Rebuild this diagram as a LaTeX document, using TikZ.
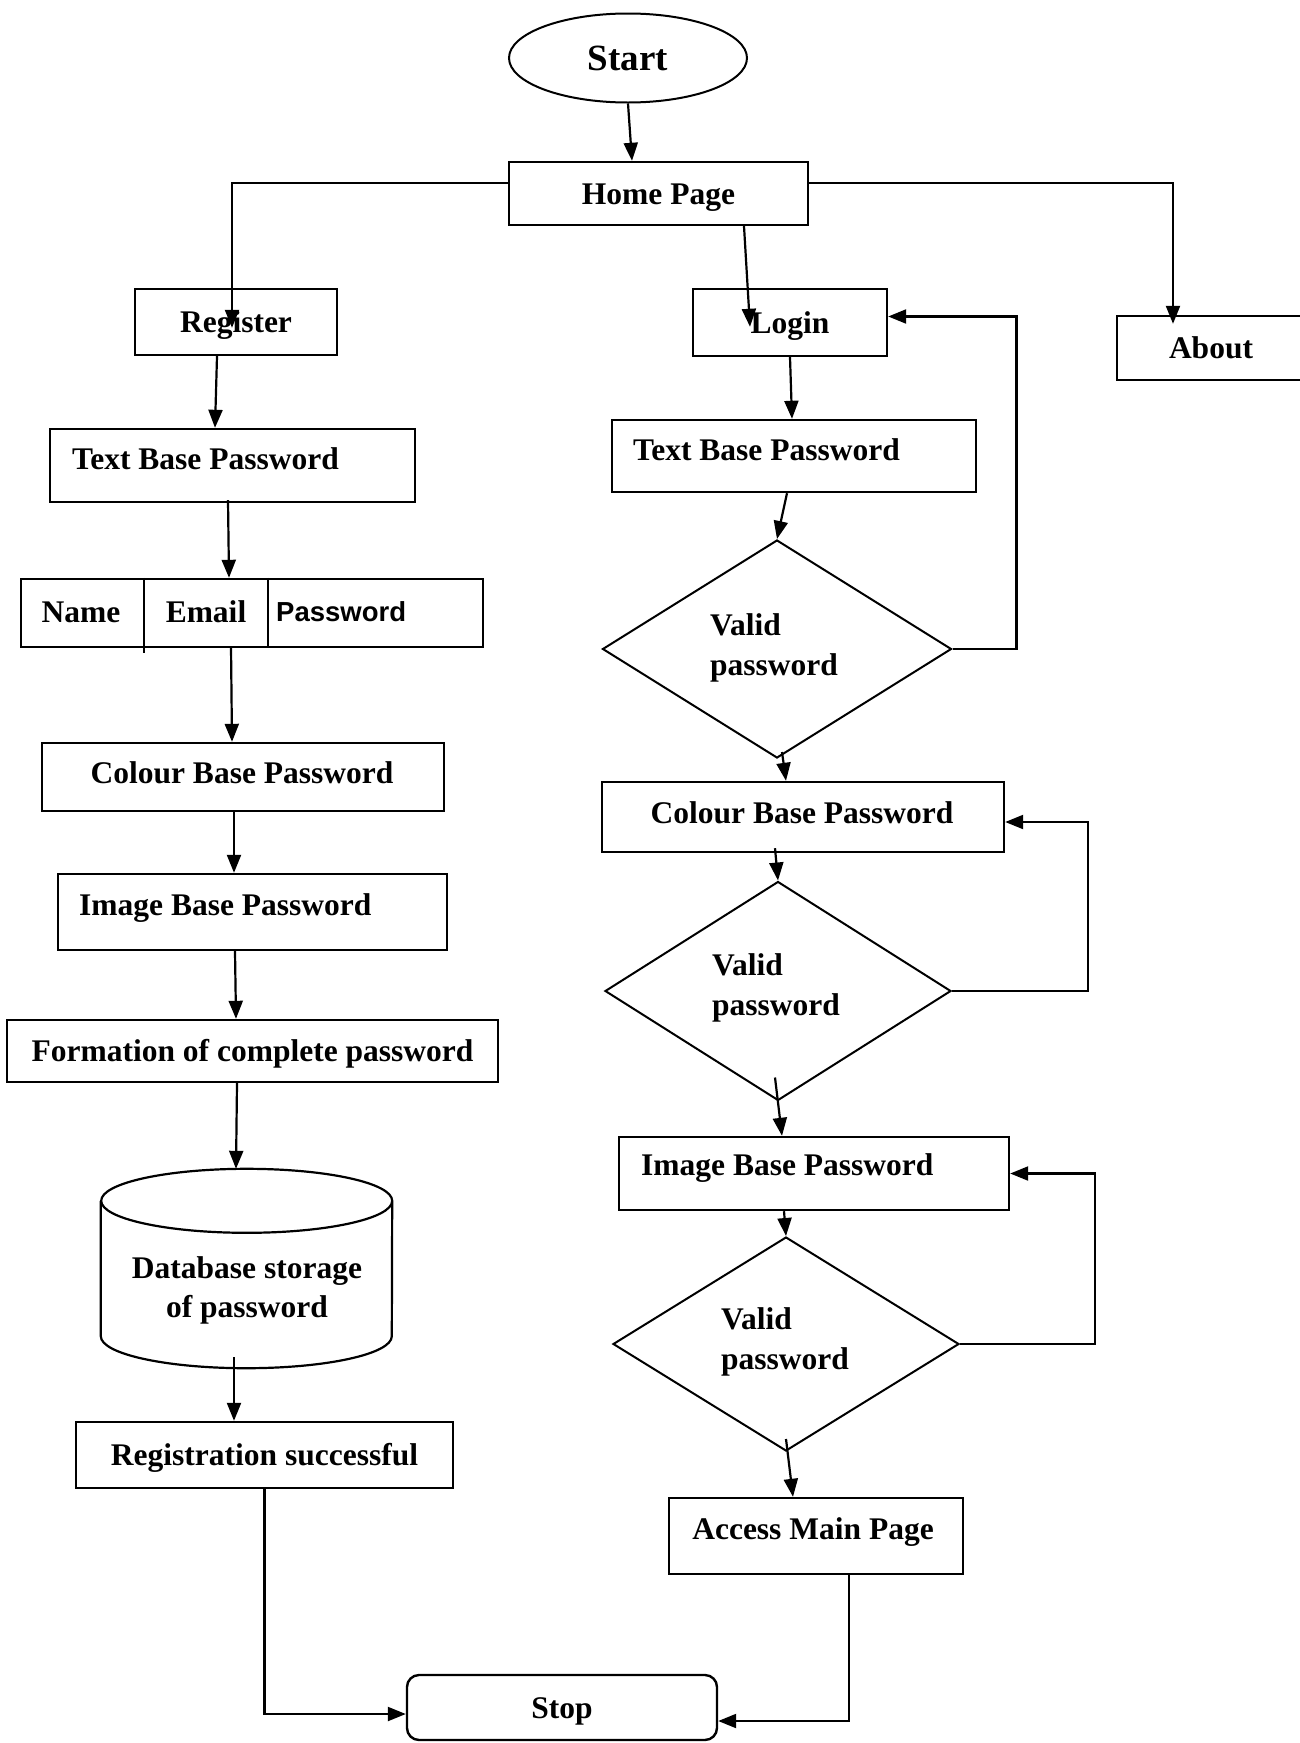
\documentclass[tikz,border=0pt]{standalone}
\usepackage{fontspec}
\setmainfont{Liberation Serif}
\newfontfamily\sansbf{Liberation Sans}
\usetikzlibrary{arrows.meta,shapes.geometric}
\begin{document}
\begin{tikzpicture}[x=1pt,y=-1pt,
  bx/.style={draw, line width=2.4pt, rectangle, inner sep=0pt,
    font=\fontsize{31.5}{40}\selectfont\bfseries, text height=21pt, text depth=0pt},
  txt/.style={inner sep=0pt, font=\fontsize{31.5}{40}\selectfont\bfseries, text height=21pt, text depth=0pt},
  mtxt/.style={inner sep=0pt, font=\fontsize{31.5}{40}\selectfont\bfseries, align=left},
  dia/.style={draw, diamond, line width=2pt, inner sep=0pt},
  arr/.style={line width=2.2pt, -{Triangle[length=18pt,width=14pt]}},
  divline/.style={line width=1.6pt}]
\fill[white] (0,0) rectangle (1300,1743);
\useasboundingbox (0,0) rectangle (1300,1743);

% top
\node[draw, ellipse, line width=2pt, minimum width=238pt, minimum height=89pt, inner sep=0pt,
  font=\fontsize{37}{44}\selectfont\bfseries] (start) at (628,58) {Start};
\node[bx, minimum width=299pt, minimum height=63pt] (home) at (658.5,193.5) {Home Page};
\node[bx, minimum width=202pt, minimum height=66pt] (register) at (236,322) {Register};
\node[bx, minimum width=194pt, minimum height=67pt] (login) at (790,322.5) {Login};
\node[bx, minimum width=188pt, minimum height=64pt] (about) at (1211,348) {About};

% left column
\node[bx, minimum width=365pt, minimum height=73pt] (ltext) at (232.5,465.5) {};
\node[txt, anchor=west] (ltextlbl) at (72,459) {Text Base Password};

\node[bx, minimum width=462pt, minimum height=68pt] (names) at (252,613) {};
\draw[divline] ([xshift=124pt]names.north west) -- ([xshift=124pt,yshift=-5pt]names.south west);
\draw[divline] ([xshift=248pt]names.north west) -- ([xshift=248pt]names.south west);
\node[txt] (nname) at (81,612) {Name};
\node[txt] (nemail) at (206,612) {Email};
\node[txt, anchor=west, font=\fontsize{27.5}{32}\selectfont\sansbf\bfseries, text height=19.7pt] (npass) at (276,612) {Password};

\node[bx, minimum width=402pt, minimum height=68pt] (lcolour) at (243,777) {};
\node[txt] (lcolourlbl) at (242,773) {Colour Base Password};

\node[bx, minimum width=389pt, minimum height=76pt] (limage) at (252.5,912) {};
\node[txt, anchor=west] (limagelbl) at (79,905) {Image Base Password};

\node[bx, minimum width=491pt, minimum height=62pt] (formation) at (252.5,1051) {Formation of complete password};

\node[minimum width=291pt, minimum height=199pt, inner sep=0pt] (db) at (246.5,1268.5) {};
\draw[line width=2.2pt] ([yshift=-32pt]db.north west) -- ([yshift=32pt]db.south west)
  arc[start angle=180, end angle=360, x radius=145.5pt, y radius=32pt]
  -- ([yshift=-32pt]db.north east)
  arc[start angle=0, end angle=360, x radius=145.5pt, y radius=32pt];
\node[mtxt, align=center, font=\fontsize{31.5}{39}\selectfont\bfseries] (dblbl) at (247,1290) {Database storage\\of password};

\node[bx, minimum width=377pt, minimum height=66pt] (reg) at (264.5,1455) {Registration successful};
\node[bx, rounded corners=12pt, minimum width=310pt, minimum height=65pt] (stop) at (562,1707.5) {Stop};

% right column
\node[bx, minimum width=364pt, minimum height=72pt] (rtext) at (794,456) {};
\node[txt, anchor=west] (rtextlbl) at (633,450) {Text Base Password};

\node[dia, minimum width=349pt, minimum height=218pt] (d1) at (777,649) {};
\node[mtxt, anchor=west] (d1lbl) at (710,648) {Valid\\password};

\node[bx, minimum width=402pt, minimum height=70pt] (rcolour) at (803,817) {};
\node[txt] (rcolourlbl) at (802,813) {Colour Base Password};

\node[dia, minimum width=346pt, minimum height=219pt] (d2) at (778,991) {};
\node[mtxt, anchor=west] (d2lbl) at (712,988) {Valid\\password};

\node[bx, minimum width=390pt, minimum height=73pt] (rimage) at (814,1173.5) {};
\node[txt, anchor=west] (rimagelbl) at (641,1165) {Image Base Password};

\node[dia, minimum width=346pt, minimum height=214pt] (d3) at (786,1344) {};
\node[mtxt, anchor=west] (d3lbl) at (721,1342) {Valid\\password};

\node[bx, minimum width=294pt, minimum height=76pt] (access) at (816,1536) {};
\node[txt] (accesslbl) at (813,1529) {Access Main Page};

% connectors
\draw[arr] (start.south) -- ([xshift=-26.5pt]home.north);
\draw[arr] ([yshift=10.5pt]home.west) -| ([xshift=-4pt,yshift=-40pt]register.north);
\draw[arr] ([yshift=10.5pt]home.east) -| ([xshift=-38pt,yshift=-9pt]about.north);
\draw[arr] ([xshift=85.5pt]home.south) -- ([xshift=-40pt,yshift=-39pt]login.north);

\draw[arr] ([xshift=-19pt]register.south) -- ([xshift=-17.5pt]ltext.north);
\draw[arr] ([xshift=-4.5pt,yshift=3pt]ltext.south) -- ([xshift=-23pt]names.north);
\draw[arr] ([xshift=-21pt,yshift=2pt]names.south) -- ([xshift=-11pt]lcolour.north);
\draw[arr] ([xshift=-9pt]lcolour.south) -- ([xshift=-18.5pt]limage.north);
\draw[arr] ([xshift=-17.5pt]limage.south) -- ([xshift=-16.5pt]formation.north);
\draw[arr] ([xshift=-15.5pt]formation.south) -- ([xshift=-10.5pt]db.north);
\draw[arr] ([xshift=-12.5pt,yshift=11pt]db.south) -- ([xshift=-30.5pt]reg.north);
\draw[arr] (reg.south) |- ([yshift=-6.5pt]stop.west);

\draw[arr] (login.south) -- ([xshift=-2pt]rtext.north);
\draw[arr] ([xshift=-7pt]rtext.south) -- (d1.north);
\draw[arr] ([xshift=5pt,yshift=7pt]d1.south) -- ([xshift=-17pt]rcolour.north);
\draw[arr] ([xshift=-28pt,yshift=5pt]rcolour.south) -- (d2.north);
\draw[arr] ([xshift=-3pt,yshift=24pt]d2.south) -- ([xshift=-32pt]rimage.north);
\draw[arr] ([xshift=-30pt]rimage.south) -- (d3.north);
\draw[arr] ([yshift=13pt]d3.south) -- ([xshift=-23pt]access.north);
\draw[arr] ([xshift=33pt]access.south) |- ([yshift=-13.5pt]stop.east);

\draw[arr] (d1.east) -- ++(64,0) |- ([yshift=6pt]login.east);
\draw[arr] (d2.east) -- ++(136,0) |- ([yshift=-5pt]rcolour.east);
\draw[arr] (d3.east) -- ++(135,0) |- (rimage.east);
\end{tikzpicture}
\end{document}
